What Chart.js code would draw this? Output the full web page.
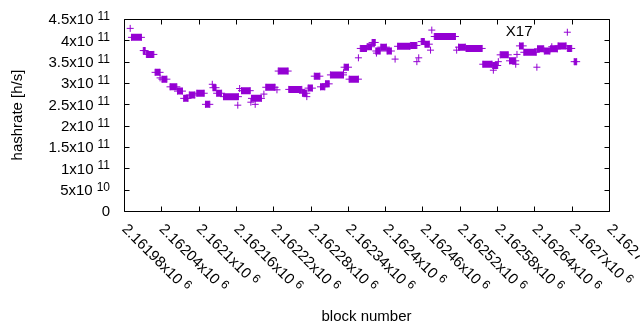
<!DOCTYPE html>
<html><head><meta charset="utf-8">
<script src="https://cdn.jsdelivr.net/npm/chart.js@4"></script>
<style>html,body{margin:0;padding:0;background:#fff;overflow:hidden}</style>
</head><body>
<canvas id="c" width="640" height="330"></canvas>
<script>
// ---- data ----
const xTicks = [2161980,2162040,2162100,2162160,2162220,2162280,2162340,2162400,2162460,2162520,2162580,2162640,2162700,2162760];
const xTickMantissa = ["2.16198x10","2.16204x10","2.1621x10","2.16216x10","2.16222x10","2.16228x10","2.16234x10","2.1624x10","2.16246x10","2.16252x10","2.16258x10","2.16264x10","2.1627x10","2.16276x10"];
const xTickExponent = ["6","6","6","6","6","6","6","6","6","6","6","6","6","6"];
const yTicks = [0,0.5e11,1e11,1.5e11,2e11,2.5e11,3e11,3.5e11,4e11,4.5e11];
const yTickMantissa = ["0","5x10","1x10","1.5x10","2x10","2.5x10","3x10","3.5x10","4x10","4.5x10"];
const yTickExponent = ["","10","11","11","11","11","11","11","11","11"];

// runs of consecutive blocks sharing one hashrate value
const runStart = [2161992,2162011,2162016,2162030,2162041,2162054,2162066,2162076,2162085,2162097,2162111,2162123,2162129,2162140,2162169,2162185,2162208,2162228,2162245,2162267,2162276,2162286,2162296,2162304,2162312,2162334,2162342,2162360,2162371,2162379,2162385,2162393,2162403,2162420,2162441,2162458,2162464,2162479,2162518,2162530,2162557,2162573,2162585,2162600,2162616,2162623,2162645,2162656,2162666,2162678,2162693,2162704];
const runEnd   = [2162008,2162014,2162028,2162038,2162049,2162065,2162074,2162083,2162094,2162109,2162118,2162128,2162137,2162164,2162183,2162201,2162223,2162244,2162266,2162274,2162283,2162295,2162303,2162310,2162333,2162341,2162357,2162370,2162378,2162384,2162392,2162402,2162410,2162440,2162451,2162463,2162471,2162513,2162529,2162556,2162572,2162581,2162598,2162610,2162622,2162643,2162655,2162665,2162677,2162691,2162700,2162708];
const runValue = [4.07e11,3.76e11,3.67e11,3.25e11,3.09e11,2.91e11,2.81e11,2.64e11,2.72e11,2.76e11,2.50e11,2.89e11,2.76e11,2.68e11,2.82e11,2.64e11,2.90e11,3.28e11,2.85e11,2.76e11,2.88e11,3.16e11,2.91e11,2.98e11,3.19e11,3.37e11,3.09e11,3.81e11,3.85e11,3.95e11,3.75e11,3.84e11,3.75e11,3.86e11,3.88e11,3.97e11,3.91e11,4.09e11,3.84e11,3.81e11,3.44e11,3.41e11,3.66e11,3.52e11,3.87e11,3.72e11,3.80e11,3.75e11,3.80e11,3.87e11,3.81e11,3.50e11];

// single blocks
const pointBlock = [2161990,2162038,2162122,2162163,2162166,2162184,2162191,2162205,2162226,2162274,2162333,2162357,2162386,2162416,2162451,2162454,2162473,2162475,2162515,2162574,2162582,2162610,2162612,2162644,2162668,2162693];
const pointValue = [4.28e11,3.12e11,2.97e11,2.48e11,2.87e11,2.55e11,2.50e11,2.74e11,2.84e11,2.68e11,3.24e11,3.59e11,3.70e11,3.56e11,3.50e11,3.59e11,3.77e11,4.24e11,3.77e11,3.30e11,3.50e11,3.44e11,3.67e11,3.37e11,3.85e11,4.19e11];

const seriesLabel = "X17";
const labelBlock = 2162594;
const labelValue = 4.2e11;
const xTitle = "block number";
const yTitle = "hashrate [h/s]";

// ---- build ----
const COLOR = "#9400d3";
const FONT = "'Liberation Sans', Arial, sans-serif";
const runData = [];
for (let i = 0; i < runStart.length; i++) {
  runData.push({x: runStart[i], y: runValue[i]});
  runData.push({x: runEnd[i], y: runValue[i]});
  runData.push({x: runEnd[i], y: null});
}
const pointData = pointBlock.map((b, i) => ({x: b, y: pointValue[i]}));

function drawSup(ctx, base, exp, x, yMid, align, baseSize, expSize) {
  ctx.font = baseSize + "px " + FONT;
  const wb = ctx.measureText(base).width;
  ctx.font = expSize + "px " + FONT;
  const gap = exp ? 4 : 0;
  const we = exp ? ctx.measureText(exp).width : 0;
  const total = wb + gap + we;
  let x0 = align === "right" ? x - total : x;
  const baseLine = yMid + baseSize * 0.358;
  ctx.textAlign = "left";
  ctx.textBaseline = "alphabetic";
  ctx.font = baseSize + "px " + FONT;
  ctx.fillText(base, x0, baseLine);
  if (exp) {
    ctx.font = expSize + "px " + FONT;
    ctx.fillText(exp, x0 + wb + gap, baseLine - 4.5);
  }
}

const axesPlugin = {
  id: "gnuplotAxes",
  afterDraw(chart) {
    const ctx = chart.ctx;
    const a = chart.chartArea;
    const xs = chart.scales.x, ys = chart.scales.y;
    const L = Math.round(a.left) + 0.5, R = Math.round(a.right) + 0.5;
    const T = Math.round(a.top) + 0.5, B = Math.round(a.bottom) + 0.5;
    ctx.save();
    ctx.strokeStyle = "#000";
    ctx.lineWidth = 1;
    ctx.beginPath();
    ctx.rect(L, T, R - L, B - T);
    yTicks.forEach(v => {
      const y = Math.round(ys.getPixelForValue(v)) + 0.5;
      ctx.moveTo(L, y); ctx.lineTo(L + 5, y);
      ctx.moveTo(R, y); ctx.lineTo(R - 5, y);
    });
    xTicks.forEach(v => {
      const x = Math.round(xs.getPixelForValue(v)) + 0.5;
      ctx.moveTo(x, B); ctx.lineTo(x, B - 5);
      ctx.moveTo(x, T); ctx.lineTo(x, T + 5);
    });
    ctx.stroke();
    ctx.fillStyle = "#000";
    yTicks.forEach((v, i) => {
      const y = ys.getPixelForValue(v);
      drawSup(ctx, yTickMantissa[i], yTickExponent[i], 110, y, "right", 15, 12);
    });
    xTicks.forEach((v, i) => {
      const x = xs.getPixelForValue(v);
      ctx.save();
      ctx.translate(x + 1, 226);
      ctx.rotate(Math.PI / 4);
      drawSup(ctx, xTickMantissa[i], xTickExponent[i], 0, 0, "left", 15, 12);
      ctx.restore();
    });
    ctx.font = "15px " + FONT;
    ctx.textAlign = "center";
    ctx.textBaseline = "alphabetic";
    ctx.fillText(xTitle, (a.left + a.right) / 2, 321);
    ctx.save();
    ctx.translate(22, (a.top + a.bottom) / 2);
    ctx.rotate(-Math.PI / 2);
    ctx.fillText(yTitle, 0, 0);
    ctx.restore();
    ctx.textAlign = "left";
    ctx.textBaseline = "middle";
    ctx.fillText(seriesLabel, xs.getPixelForValue(labelBlock), ys.getPixelForValue(labelValue));
    ctx.restore();
  }
};

new Chart(document.getElementById("c"), {
  type: "line",
  data: {
    datasets: [
      {
        data: runData,
        borderColor: COLOR,
        backgroundColor: COLOR,
        borderWidth: 7,
        borderCapStyle: "butt",
        spanGaps: false,
        tension: 0,
        pointStyle: "cross",
        pointRadius: 3.5,
        pointBorderWidth: 1,
        pointBorderColor: COLOR,
        pointHoverRadius: 3.5,
        clip: false
      },
      {
        data: pointData,
        showLine: false,
        borderColor: COLOR,
        pointStyle: "cross",
        pointRadius: 3.5,
        pointBorderWidth: 1,
        pointBorderColor: COLOR,
        clip: false
      }
    ]
  },
  options: {
    responsive: false,
    animation: false,
    events: [],
    layout: {padding: {left: 124, right: 31, top: 19, bottom: 119}},
    plugins: {legend: {display: false}, tooltip: {enabled: false}},
    scales: {
      x: {type: "linear", min: 2161980, max: 2162760, display: false},
      y: {type: "linear", min: 0, max: 4.5e11, display: false}
    }
  },
  plugins: [axesPlugin]
});
</script>
</body></html>
